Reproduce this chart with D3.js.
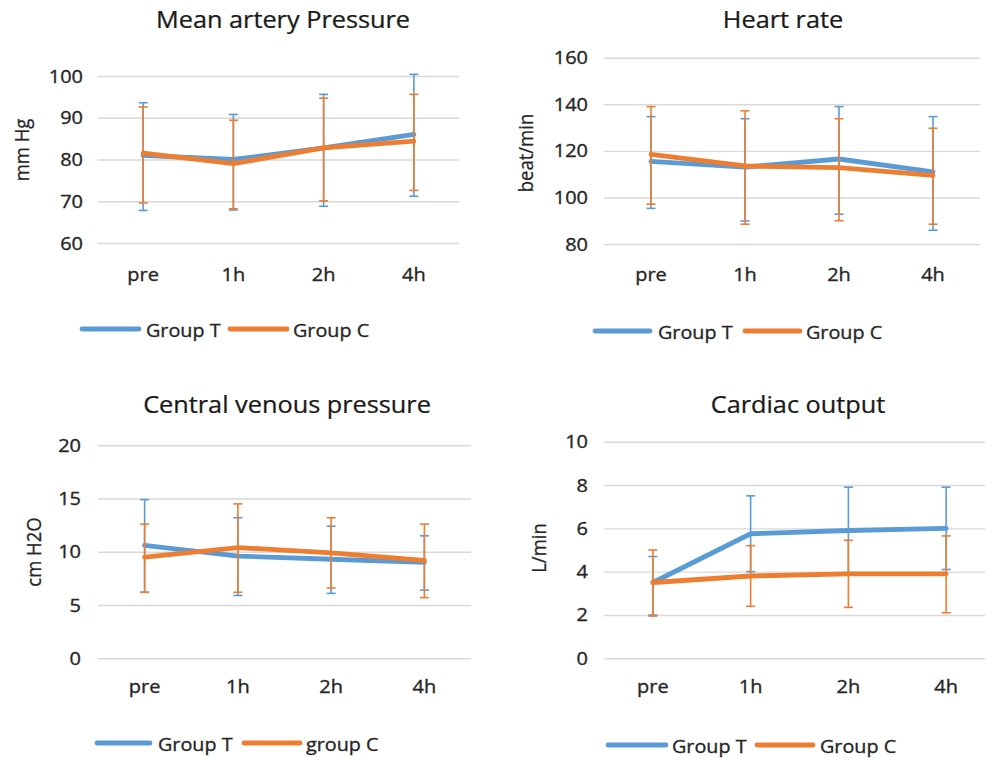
<!DOCTYPE html>
<html>
<head>
<meta charset="utf-8">
<script src="https://cdn.jsdelivr.net/npm/d3@7"></script>
<style>
  html, body { margin: 0; padding: 0; background: #fff; }
  svg { display: block; }
  text { font-family: 'Open Sans', 'Noto Sans', sans-serif; }
</style>
</head>
<body>
<svg id="chart" width="985" height="758"></svg>
<script>
// ---------- data ----------
const categories = ["pre", "1h", "2h", "4h"];
const seriesNames = ["Group T", "Group C"];

// Mean artery pressure (mmHg)
const mapT   = [81.0, 80.0, 82.8, 86.0];
const mapTHi = [93.6, 90.8, 95.6, 100.4];
const mapTLo = [67.8, 67.9, 68.8, 71.2];
const mapC   = [81.5, 79.0, 82.8, 84.4];
const mapCHi = [92.6, 89.4, 94.7, 95.6];
const mapCLo = [69.6, 68.2, 70.1, 72.6];
const mapTicks = [60, 70, 80, 90, 100];

// Heart rate (beat/min)
const hrT   = [115.5, 113.0, 116.5, 111.0];
const hrTHi = [134.7, 133.8, 139.0, 134.7];
const hrTLo = [95.3, 89.9, 92.8, 85.9];
const hrC   = [118.5, 113.5, 112.8, 109.5];
const hrCHi = [139.0, 137.2, 133.8, 129.7];
const hrCLo = [97.1, 88.5, 90.0, 88.5];
const hrTicks = [80, 100, 120, 140, 160];

// Central venous pressure (cmH2O)
const cvpT   = [10.6, 9.6, 9.3, 9.0];
const cvpTHi = [14.9, 13.2, 12.4, 11.5];
const cvpTLo = [6.2, 5.9, 6.1, 6.4];
const cvpC   = [9.5, 10.4, 9.9, 9.2];
const cvpCHi = [12.6, 14.5, 13.2, 12.6];
const cvpCLo = [6.2, 6.2, 6.6, 5.7];
const cvpTicks = [0, 5, 10, 15, 20];

// Cardiac output (L/min)
const coT   = [3.5, 5.75, 5.9, 6.0];
const coTHi = [4.7, 7.5, 7.9, 7.9];
const coTLo = [2.0, 4.0, 3.9, 4.1];
const coC   = [3.5, 3.8, 3.9, 3.9];
const coCHi = [5.0, 5.2, 5.45, 5.65];
const coCLo = [1.95, 2.4, 2.35, 2.1];
const coTicks = [0, 2, 4, 6, 8, 10];

// ---------- layout / style ----------
const BLUE = "#5b9bd5", ORANGE = "#ed7d31";
const GRID = "#d9d9d9", TXT = "#262626", TITLE = "#1a1a1a";

const panels = [
  { title: "Mean artery Pressure", ytitle: "mm Hg", legendC: "Group C",
    T: [mapT, mapTHi, mapTLo], C: [mapC, mapCHi, mapCLo], ticks: mapTicks,
    left: 98, right: 459, top: 76, bottom: 243,
    titleX: 283, titleY: 28, yTitleX: 21, yTitleY: 150, tickX: 83, xLabY: 281,
    legY: 329, leg: [82, 139, 146, 230, 287, 293] },
  { title: "Heart rate", ytitle: "beat/min", legendC: "Group C",
    T: [hrT, hrTHi, hrTLo], C: [hrC, hrCHi, hrCLo], ticks: hrTicks,
    left: 604, right: 980, top: 57.7, bottom: 244,
    titleX: 783, titleY: 28, yTitleX: 525, yTitleY: 153, tickX: 588, xLabY: 281,
    legY: 331, leg: [595, 650, 658, 745, 800, 806] },
  { title: "Central venous pressure", ytitle: "cm H2O", legendC: "group C",
    T: [cvpT, cvpTHi, cvpTLo], C: [cvpC, cvpCHi, cvpCLo], ticks: cvpTicks,
    left: 98, right: 471, top: 445.3, bottom: 658.3,
    titleX: 287, titleY: 413, yTitleX: 33, yTitleY: 552, tickX: 81, xLabY: 693,
    legY: 743, leg: [97, 150, 158, 244, 300, 306] },
  { title: "Cardiac output", ytitle: "L/min", legendC: "Group C",
    T: [coT, coTHi, coTLo], C: [coC, coCHi, coCLo], ticks: coTicks,
    left: 604, right: 995, top: 441.7, bottom: 658.3,
    titleX: 798, titleY: 413, yTitleX: 538, yTitleY: 548, tickX: 588, xLabY: 693,
    legY: 745, leg: [608, 666, 672, 757, 813, 820] }
];

const svg = d3.select("#chart");

function stretchedText(g, x, y, str, opts) {
  const sx = opts.sx || 1.1;
  const col = opts.fill || TXT;
  const t = g.append("text")
    .attr("transform", `translate(${x},${y}) scale(${sx},1)`)
    .attr("text-anchor", opts.anchor || "start")
    .attr("font-size", opts.size)
    .attr("fill", col)
    .attr("stroke", col)
    .attr("stroke-width", opts.sw == null ? 0.35 : opts.sw)
    .text(str);
  return t;
}

panels.forEach(p => {
  const g = svg.append("g");
  const x = d3.scaleBand().domain(categories).range([p.left, p.right]);
  const cx = c => x(c) + x.bandwidth() / 2;
  const dom = d3.extent(p.ticks);
  const y = d3.scaleLinear().domain(dom).range([p.bottom, p.top]);

  // gridlines via axis
  const yAxis = d3.axisLeft(y).tickValues(p.ticks).tickSize(-(p.right - p.left)).tickFormat("");
  const ga = g.append("g").attr("transform", `translate(${p.left},0)`).call(yAxis);
  ga.select(".domain").remove();
  ga.selectAll(".tick line").attr("stroke", GRID).attr("stroke-width", 1.4);

  // y tick labels
  p.ticks.forEach(v => {
    stretchedText(g, p.tickX, y(v) + 6.5, String(v), { size: 18.5, anchor: "end", sx: 1.08 });
  });

  // x labels
  categories.forEach(c => {
    stretchedText(g, cx(c), p.xLabY, c, { size: 18.5, anchor: "middle", sx: 1.08 });
  });

  // title
  stretchedText(g, p.titleX, p.titleY, p.title, { size: 23, anchor: "middle", sx: 1.1, fill: TITLE, sw: 0.25 });

  // y axis title (rotated)
  g.append("text")
    .attr("transform", `translate(${p.yTitleX},${p.yTitleY}) rotate(-90) scale(1,1.08)`)
    .attr("text-anchor", "middle")
    .attr("dominant-baseline", "central")
    .attr("font-size", 18.5)
    .attr("fill", TXT)
    .attr("stroke", TXT)
    .attr("stroke-width", 0.25)
    .text(p.ytitle);

  // series
  const series = [
    { vals: p.T, color: BLUE },
    { vals: p.C, color: ORANGE }
  ];
  const line = d3.line().x((d, i) => cx(categories[i])).y(d => y(d));
  series.forEach(s => {
    const [m, hi, lo] = s.vals;
    const eb = g.append("g").attr("stroke", s.color).attr("stroke-width", 1.6).attr("fill", "none");
    categories.forEach((c, i) => {
      const xx = cx(c);
      eb.append("line").attr("x1", xx).attr("x2", xx).attr("y1", y(hi[i])).attr("y2", y(lo[i]));
      eb.append("line").attr("x1", xx - 4.5).attr("x2", xx + 4.5).attr("y1", y(hi[i])).attr("y2", y(hi[i]));
      eb.append("line").attr("x1", xx - 4.5).attr("x2", xx + 4.5).attr("y1", y(lo[i])).attr("y2", y(lo[i]));
    });
    g.append("path").datum(m)
      .attr("d", line)
      .attr("fill", "none")
      .attr("stroke", s.color)
      .attr("stroke-width", 4.8)
      .attr("stroke-linejoin", "round")
      .attr("stroke-linecap", "round");
  });

  // legend
  const L = p.leg;
  const legItems = [
    { x1: L[0], x2: L[1], tx: L[2], color: BLUE, label: seriesNames[0] },
    { x1: L[3], x2: L[4], tx: L[5], color: ORANGE, label: p.legendC }
  ];
  legItems.forEach(it => {
    g.append("line").attr("x1", it.x1).attr("x2", it.x2).attr("y1", p.legY).attr("y2", p.legY)
      .attr("stroke", it.color).attr("stroke-width", 4.8).attr("stroke-linecap", "round");
    stretchedText(g, it.tx, p.legY + 7.5, it.label, { size: 19, anchor: "start", sx: 1.04 });
  });
});
</script>
</body>
</html>
